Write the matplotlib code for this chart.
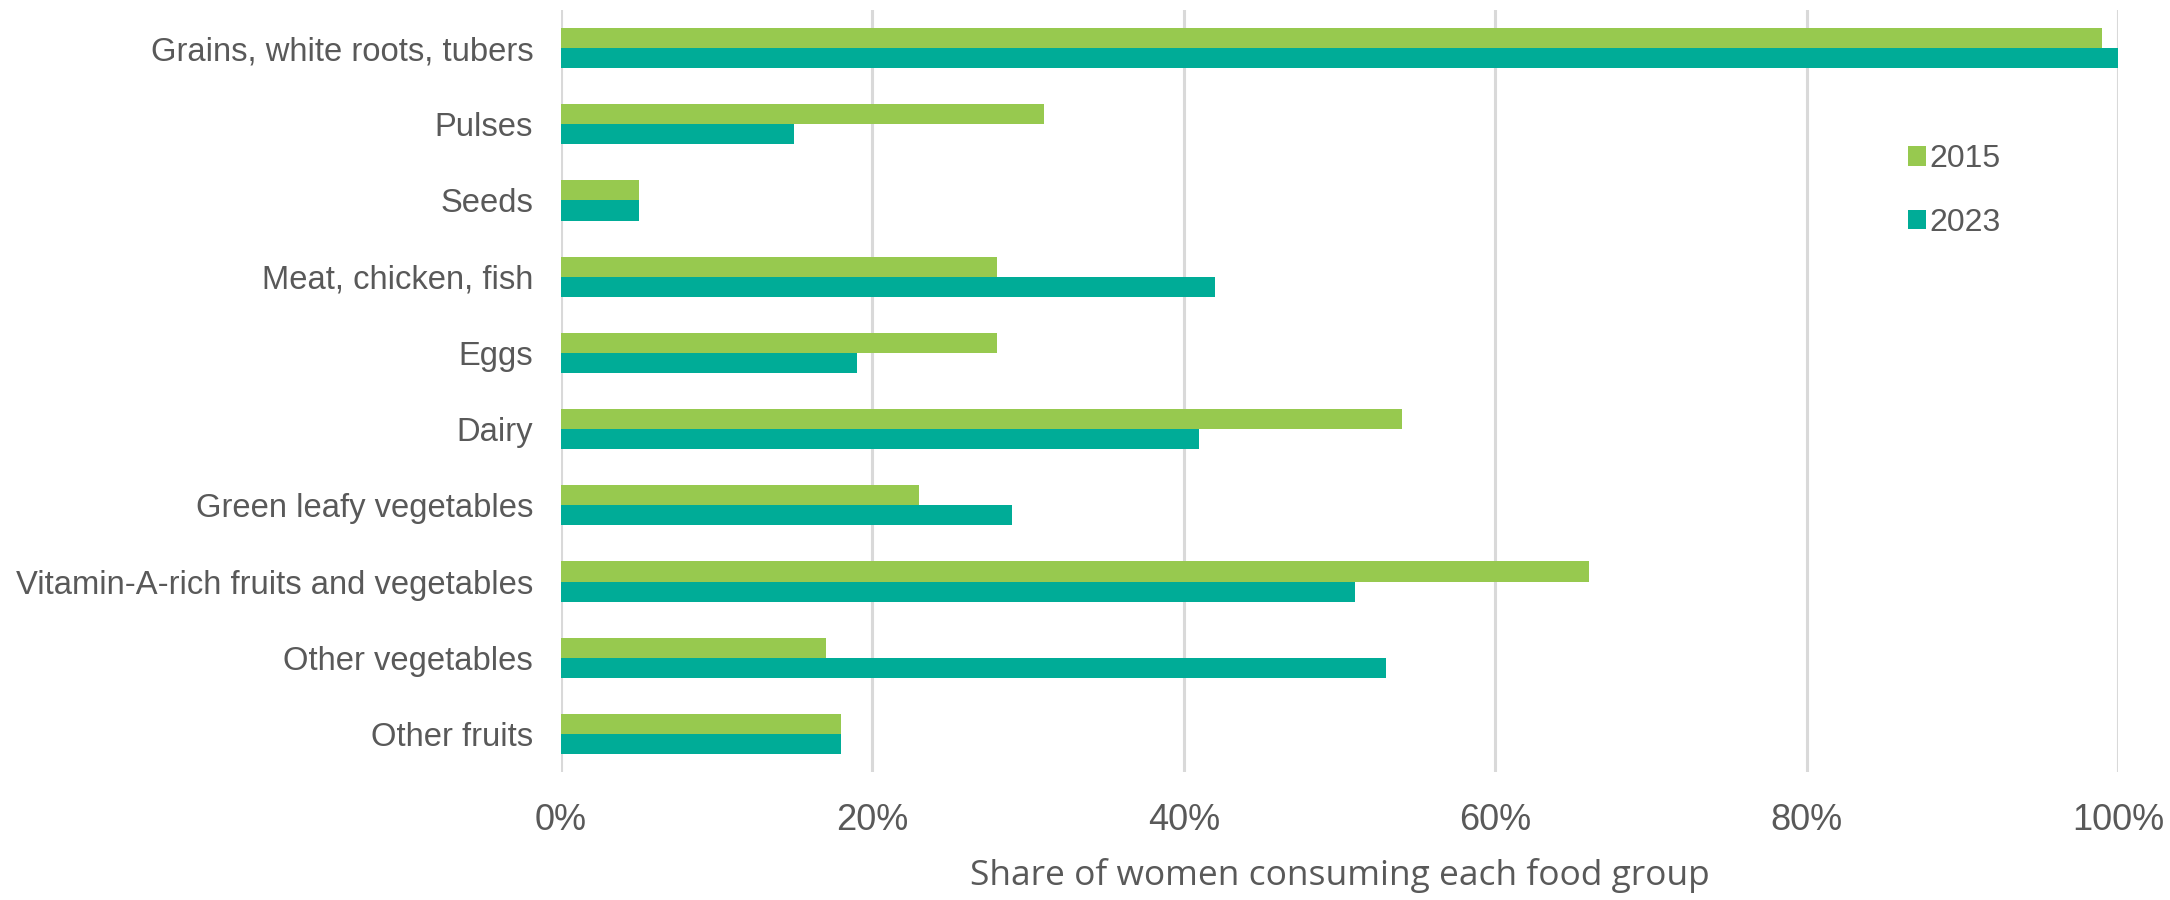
import matplotlib
matplotlib.use("Agg")
import matplotlib.pyplot as plt
import numpy as np
from matplotlib.ticker import FuncFormatter

categories = ["Grains, white roots, tubers", "Pulses", "Seeds", "Meat, chicken, fish",
              "Eggs", "Dairy", "Green leafy vegetables",
              "Vitamin-A-rich fruits and vegetables", "Other vegetables", "Other fruits"]
values_2015 = [99, 31, 5, 28, 28, 54, 23, 66, 17, 18]
values_2023 = [100, 15, 5, 42, 19, 41, 29, 51, 53, 18]
series_labels = ["2015", "2023"]
x_ticks = [0, 20, 40, 60, 80, 100]
x_label = "Share of women consuming each food group"

c2015 = "#97C94F"
c2023 = "#00AC97"
txt = "#595959"
grid = "#D9D9D9"

fig = plt.figure(figsize=(21.7, 9), dpi=100)
ax = fig.add_axes([0.2585, 0.1422, 0.7175, 0.8467])

y = np.arange(len(categories))
h = 0.263
ax.barh(y - h / 2, values_2015, height=h, color=c2015, label=series_labels[0], zorder=3)
ax.barh(y + h / 2, values_2023, height=h, color=c2023, label=series_labels[1], zorder=3)

ax.set_ylim(len(categories) - 0.5, -0.5)
ax.set_xlim(0, 100)
ax.set_yticks(y)
ax.set_yticklabels(categories, fontsize=23.6, color=txt, family="Liberation Sans")
ax.set_xticks(x_ticks)
ax.xaxis.set_major_formatter(FuncFormatter(lambda v, p: f"{v:.0f}%"))
for lab in ax.get_xticklabels():
    lab.set_fontsize(26)
    lab.set_color(txt)
    lab.set_family("Liberation Sans")
ax.tick_params(axis="both", length=0)
ax.tick_params(axis="y", pad=20)
ax.tick_params(axis="x", pad=22)

ax.grid(axis="x", color=grid, linewidth=2.2, zorder=0)
ax.set_axisbelow(True)
for s in ax.spines.values():
    s.set_visible(False)

ax.set_xlabel(x_label, fontsize=25.5, color=txt, family="Open Sans", labelpad=15)

leg = ax.legend(loc="center left", bbox_to_anchor=(1908 / 2170, 1 - 191 / 900),
                bbox_transform=fig.transFigure, frameon=False,
                prop={"family": "Liberation Sans", "size": 23},
                handlelength=0.55, handleheight=0.55, handletextpad=0.12,
                labelspacing=1.05, borderpad=0, borderaxespad=0)
for t in leg.get_texts():
    t.set_color(txt)

fig.savefig("out.png", dpi=100, facecolor="white")
